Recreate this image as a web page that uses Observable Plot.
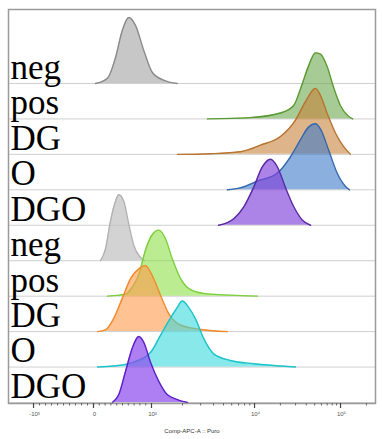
<!DOCTYPE html>
<html>
<head>
<meta charset="utf-8">
<script src="https://cdn.jsdelivr.net/npm/d3@7"></script>
<script src="https://cdn.jsdelivr.net/npm/@observablehq/plot@0.6"></script>
<style>
  html, body { margin: 0; padding: 0; background: #fff; }
  #chart svg { display: block; }
</style>
</head>
<body>
<div id="chart"></div>
<script>
// Row labels, top to bottom
const rowLabels = ["neg", "pos", "DG", "O", "DGO", "neg", "pos", "DG", "O", "DGO"];

// Histograms: [Comp-APC-A value, % of mode]
const neg1 = [[34,0],[241,8],[379,39],[495,80],[609,100],[724,88],[867,50],[1016,17],[1308,5],[1776,0]];
const pos1 = [[3497,0],[9130,2],[20060,9],[28400,20],[35880,53],[42450,80],[51180,100],[58540,98],[70000,79],[82960,48],[100000,20],[123500,4],[138400,0]];
const dg1  = [[1787,0],[3740,1],[7310,4],[11740,14],[20060,27],[29980,52],[39200,80],[51180,100],[58540,89],[70000,62],[87600,32],[108200,12],[130600,0]];
const o1   = [[5460,0],[7310,3],[10750,13],[18350,25],[26200,50],[34300,76],[42450,95],[51180,100],[58540,92],[72400,61],[91600,25],[114400,5],[127000,0]];
const dgo1 = [[4478,0],[6290,10],[7880,28],[9840,58],[12290,88],[15350,100],[18350,89],[22950,57],[28640,28],[35880,8],[44800,0]];
const neg2 = [[121,0],[207,18],[293,60],[379,90],[436,100],[522,90],[609,55],[695,23],[810,5],[879,0]];
const pos2 = [[241,0],[552,3],[638,10],[781,33],[897,70],[1016,93],[1177,100],[1367,87],[1588,57],[1911,27],[2391,10],[3470,3.5],[5840,1.5],[10840,0]];
const dg2  = [[69,0],[207,2.5],[350,20],[495,50],[638,80],[781,95],[897,100],[1016,85],[1223,55],[1472,27],[1911,10],[2780,4],[5460,0]];
const o2   = [[69,0],[350,1.5],[695,7.5],[983,22],[1223,48],[1472,70],[1776,90],[1986,100],[2303,90],[2673,73],[3220,43],[4020,20],[5840,10],[9840,5],[20060,1.5],[29980,0]];
const dgo2 = [[328,0],[436,12],[552,47],[667,82],[781,100],[867,91],[983,61],[1177,32],[1420,12],[1776,4.5],[2237,0]];

// Axis ticks
const majorTicks = [-1000, 0, 1000, 10000, 100000];
const majorTickLabels = ["-10\u00B3", "0", "10\u00B3", "10\u2074", "10\u2075"];
const axisTitle = "Comp-APC-A :: Puro";

// Styles (kept apart from the data)
const fills   = ["#a9a9a9", "#6aa84f", "#c8843c", "#3d7cc9", "#8040d8", "#c0c0c0", "#8ee04a", "#ff9a4a", "#3ad8dc", "#8a48ec"];
const strokes = ["#8a8a8a", "#5b9a30", "#b8732f", "#3468ad", "#5a2aa6", "#b2b2b2", "#7ccf3b", "#f08a2a", "#1cc3ca", "#5b1fc8"];
const fillOp  = [0.65, 0.6, 0.6, 0.6, 0.65, 0.7, 0.6, 0.6, 0.6, 0.7];

const seriesData = [neg1, pos1, dg1, o1, dgo1, neg2, pos2, dg2, o2, dgo2];

// Biexponential-like display transform (linear around 0, log above 10^3)
function biex(v) {
  if (v < 0) return v * 1.034 / 1000;
  if (v <= 1000) return v / 1000;
  if (v <= 10000) return 1 + Math.log10(v / 1000) * 1.776;
  return 2.776 + Math.log10(v / 10000) * 1.483;
}

const xDomain = [-1.4655, 4.862];
const yDomain = [-0.0282, 11.087];
const H = 1.862; // row units for 100% of mode
const nRows = rowLabels.length;
const base = i => (nRows - 1) - i;

const minorTicks = [];
for (let k = 1; k <= 9; k++) { minorTicks.push(-k * 100); minorTicks.push(k * 100); }
for (const dec of [1000, 10000, 100000]) for (let m = 2; m <= 9; m++) minorTicks.push(m * dec);
const minorIn = minorTicks.filter(v => biex(v) >= xDomain[0] && biex(v) <= xDomain[1]);

const marks = [];
marks.push(Plot.ruleY(rowLabels.map((_, i) => base(i)), {stroke: "#cfcfcf", strokeWidth: 1}));
marks.push(Plot.text(rowLabels, {
  frameAnchor: "left", y: (d, i) => base(i), text: d => d,
  dx: 2, dy: -4.6, lineAnchor: "bottom", textAnchor: "start",
  fontSize: 35, fontFamily: "Liberation Serif, Times New Roman, serif", fill: "#000"
}));
seriesData.forEach((data, i) => {
  const b = base(i);
  marks.push(Plot.areaY(data, {
    x: d => biex(d[0]), y1: () => b, y2: d => b + d[1] / 100 * H,
    fill: fills[i], fillOpacity: fillOp[i], curve: "monotone-x"
  }));
  marks.push(Plot.line(data, {
    x: d => biex(d[0]), y: d => b + d[1] / 100 * H,
    stroke: strokes[i], strokeWidth: 1.4, curve: "monotone-x"
  }));
});
marks.push(Plot.frame({stroke: "#9a9a9a", strokeWidth: 1.5}));
const pxU = 1 / 35.45;
marks.push(Plot.ruleX(minorIn, {x: biex, y1: yDomain[0], y2: yDomain[0] - 2.5 * pxU, stroke: "#666", strokeWidth: 1}));
marks.push(Plot.ruleX(majorTicks, {x: biex, y1: yDomain[0], y2: yDomain[0] - 5 * pxU, stroke: "#444", strokeWidth: 1.2}));
marks.push(Plot.text(majorTicks, {
  x: biex, y: yDomain[0], text: (d, i) => majorTickLabels[i],
  dy: 11, dx: 1, fontSize: 6, fill: "#555"
}));
marks.push(Plot.text([axisTitle], {frameAnchor: "bottom", text: d => d, dy: 29, fontSize: 6, fill: "#333"}));

const chart = Plot.plot({
  width: 382,
  height: 439,
  marginTop: 9,
  marginBottom: 36,
  marginLeft: 8,
  marginRight: 7,
  style: {fontFamily: "Liberation Sans, Arial, sans-serif", background: "#fff"},
  x: {type: "linear", domain: xDomain, axis: null},
  y: {type: "linear", domain: yDomain, axis: null},
  marks
});
document.getElementById("chart").appendChild(chart);
</script>
</body>
</html>
